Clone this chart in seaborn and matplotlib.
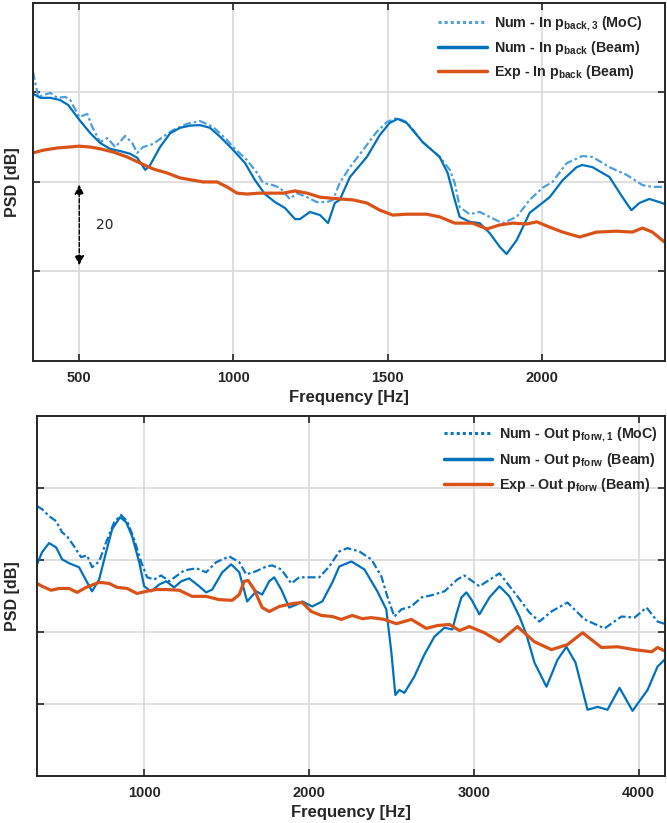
import numpy as np
import pandas as pd
import seaborn as sns
import matplotlib
matplotlib.use("Agg")
import matplotlib.pyplot as plt
from matplotlib.lines import Line2D

# ---------------- data: top panel (In, p_back) ----------------
top_num_f = [350, 374, 406, 438, 464, 500, 536, 568, 600, 633, 665, 688, 714, 730, 762, 795, 827, 860, 892, 924, 957,
             1000, 1038, 1070, 1102, 1135, 1167, 1200, 1216, 1248, 1281, 1307, 1329, 1345, 1378, 1433, 1475, 1507, 1533,
             1562, 1614, 1669, 1695, 1718, 1734, 1766, 1799, 1831, 1864, 1886, 1919, 1961, 2026, 2068, 2113, 2132, 2165,
             2220, 2262, 2291, 2317, 2349, 2382, 2405]
top_num_db = [-20.3, -21.2, -21.2, -21.7, -22.8, -26.1, -29.1, -31.3, -32.6, -33.1, -33.7, -34.6, -37.3, -36.2, -32.2,
              -29.1, -27.9, -27.4, -27.3, -27.9, -29.9, -32.9, -35.8, -39.6, -42.7, -44.5, -45.8, -48.3, -48.3, -46.7,
              -47.4, -49.2, -44.7, -44.0, -38.9, -34.4, -29.5, -26.8, -25.9, -26.8, -31.1, -34.4, -38.0, -44.0, -47.8,
              -48.9, -49.2, -51.4, -54.5, -56.1, -53.0, -46.9, -43.4, -39.6, -36.7, -36.2, -36.7, -38.9, -43.4, -46.3,
              -44.7, -43.8, -44.5, -45.1]

top_moc_f = [350, 367, 383, 406, 429, 455, 471, 500, 526, 542, 568, 591, 617, 649, 672, 688, 707, 740, 772, 804, 850,
             892, 934, 979, 999, 1044, 1077, 1096, 1128, 1151, 1183, 1206, 1239, 1271, 1303, 1323, 1345, 1378, 1420,
             1465, 1498, 1530, 1562, 1614, 1669, 1702, 1718, 1734, 1766, 1799, 1831, 1873, 1919, 1961, 2003, 2035,
             2081, 2132, 2165, 2220, 2275, 2327, 2359, 2405]
top_moc_db = [-15.4, -21.0, -20.6, -20.1, -21.2, -21.0, -21.7, -25.5, -24.8, -27.7, -31.1, -30.2, -32.2, -29.7, -31.3,
              -33.5, -32.2, -31.5, -29.9, -28.4, -27.0, -26.4, -27.7, -30.6, -32.2, -35.1, -38.0, -40.2, -40.7, -41.3,
              -43.8, -42.5, -43.4, -44.5, -44.5, -44.0, -40.2, -36.7, -32.9, -28.8, -26.6, -25.7, -26.6, -31.1, -34.4,
              -37.3, -40.2, -45.6, -47.2, -46.7, -47.8, -49.2, -47.8, -44.0, -41.3, -40.0, -35.8, -34.2, -34.4, -36.7,
              -38.4, -40.7, -41.1, -41.1]

top_exp_f = [350, 383, 429, 500, 536, 568, 610, 655, 698, 740, 785, 827, 869, 902, 947, 979, 1012, 1044, 1086, 1128,
             1161, 1200, 1239, 1281, 1345, 1387, 1433, 1475, 1517, 1562, 1627, 1669, 1718, 1744, 1776, 1822, 1864,
             1906, 1951, 1984, 2026, 2068, 2123, 2178, 2243, 2294, 2327, 2359, 2398]
top_exp_db = [-33.5, -32.9, -32.4, -32.0, -32.2, -32.6, -33.3, -34.4, -35.8, -37.1, -38.0, -39.1, -39.6, -40.0, -40.0,
              -41.1, -42.5, -42.7, -42.5, -42.5, -42.5, -42.0, -42.5, -43.4, -43.8, -44.0, -44.7, -46.3, -47.4, -47.2,
              -47.2, -47.8, -49.2, -49.2, -49.2, -50.5, -49.6, -49.2, -49.4, -48.9, -50.1, -51.2, -52.3, -51.2, -51.0,
              -51.2, -50.3, -51.2, -53.4]

# ---------------- data: bottom panel (Out, p_forw) ----------------
bot_num_f = [350, 381, 423, 466, 502, 545, 605, 654, 684, 727, 769, 806, 854, 891, 927, 970, 1000, 1043, 1091, 1134,
             1182, 1225, 1273, 1334, 1376, 1413, 1474, 1528, 1577, 1625, 1680, 1716, 1759, 1789, 1832, 1880, 1923,
             1959, 2020, 2081, 2142, 2184, 2257, 2336, 2415, 2469, 2500, 2524, 2548, 2579, 2639, 2700, 2761, 2822,
             2870, 2894, 2925, 2955, 2986, 3034, 3095, 3156, 3216, 3277, 3319, 3368, 3441, 3508, 3562, 3617, 3690,
             3751, 3811, 3884, 3963, 4054, 4115, 4170]
bot_num_db = [-41.2, -37.8, -35.3, -36.5, -39.8, -40.9, -42.0, -46.2, -48.7, -45.4, -37.8, -31.4, -28.1, -29.5, -33.4,
              -40.6, -47.3, -48.7, -46.8, -45.9, -47.6, -45.9, -45.1, -47.3, -49.0, -48.2, -43.4, -41.2, -43.4, -51.5,
              -48.7, -49.6, -45.9, -44.8, -48.2, -53.2, -52.4, -51.5, -52.9, -51.5, -46.2, -41.8, -40.4, -42.6, -48.7,
              -53.7, -65.7, -77.5, -76.1, -76.9, -72.4, -66.3, -61.3, -58.8, -59.3, -55.1, -50.4, -49.0, -51.0, -55.1,
              -50.4, -47.3, -50.1, -55.7, -60.7, -68.5, -75.2, -67.7, -64.1, -68.5, -81.6, -80.8, -81.6, -75.5, -81.9,
              -76.1, -69.6, -67.1]

bot_moc_f = [350, 381, 423, 466, 502, 532, 575, 617, 654, 684, 727, 769, 818, 860, 897, 939, 982, 1018, 1061, 1103,
             1152, 1194, 1243, 1316, 1376, 1437, 1516, 1577, 1619, 1680, 1741, 1777, 1832, 1893, 1941, 2002, 2063,
             2123, 2184, 2233, 2305, 2378, 2439, 2475, 2518, 2561, 2621, 2682, 2743, 2822, 2900, 2943, 3034, 3156,
             3265, 3338, 3398, 3471, 3568, 3672, 3793, 3896, 3975, 4048, 4115, 4170]
bot_moc_db = [-25.0, -25.9, -27.8, -29.2, -32.3, -33.4, -36.2, -39.2, -38.7, -42.0, -40.4, -35.1, -29.5, -27.5, -29.2,
              -34.2, -40.6, -44.8, -45.4, -44.3, -45.9, -44.5, -42.9, -42.3, -43.4, -40.6, -39.0, -40.6, -44.0, -43.1,
              -41.8, -41.5, -42.6, -46.5, -44.8, -44.8, -44.8, -41.8, -37.6, -36.7, -37.6, -39.8, -44.5, -50.1, -55.7,
              -53.7, -52.9, -50.4, -49.8, -48.7, -45.4, -44.3, -47.3, -43.7, -50.1, -54.6, -57.1, -54.3, -51.8, -56.5,
              -59.0, -55.7, -56.0, -53.2, -57.1, -57.9]

bot_exp_f = [350, 381, 435, 484, 545, 593, 648, 727, 787, 836, 897, 957, 1012, 1073, 1134, 1213, 1291, 1376, 1455,
             1534, 1577, 1607, 1631, 1668, 1716, 1759, 1820, 1899, 1959, 2014, 2075, 2142, 2196, 2263, 2324, 2378,
             2457, 2530, 2621, 2712, 2779, 2852, 2913, 2973, 3064, 3156, 3265, 3368, 3471, 3568, 3660, 3775, 3872,
             3975, 4079, 4115, 4170]
bot_exp_db = [-46.5, -47.3, -48.4, -47.9, -47.9, -49.0, -47.6, -46.2, -46.5, -47.6, -47.9, -49.3, -48.7, -48.2, -48.2,
              -48.4, -50.1, -50.1, -51.0, -51.2, -49.6, -45.9, -45.7, -48.2, -53.2, -54.3, -52.9, -52.1, -51.8, -54.3,
              -55.4, -55.7, -56.5, -55.4, -56.3, -56.0, -56.5, -57.7, -56.5, -59.0, -58.2, -57.9, -59.6, -58.5, -60.2,
              -62.7, -58.5, -62.7, -64.9, -63.5, -60.2, -64.3, -64.1, -64.9, -65.5, -64.3, -65.5]

top_labels = [r"Num - In p$_{\mathbf{back,3}}$ (MoC)",
              r"Num - In p$_{\mathbf{back}}$ (Beam)",
              r"Exp - In p$_{\mathbf{back}}$ (Beam)"]
bot_labels = [r"Num - Out p$_{\mathbf{forw,1}}$ (MoC)",
              r"Num - Out p$_{\mathbf{forw}}$ (Beam)",
              r"Exp - Out p$_{\mathbf{forw}}$ (Beam)"]

top_xticks = [500, 1000, 1500, 2000]
bot_xticks = [1000, 2000, 3000, 4000]

# ---------------- styling ----------------
sns.set_theme(style="white")
plt.rcParams["font.family"] = ["Liberation Sans", "DejaVu Sans"]
plt.rcParams["mathtext.fontset"] = "custom"
plt.rcParams["mathtext.rm"] = "Liberation Sans"
plt.rcParams["mathtext.bf"] = "Liberation Sans:bold"

C_MOC_TOP = "#4c9fdc"
C_MOC_BOT = "#0a74c2"
C_NUM = "#0072BD"
C_EXP = "#D95319"

fig = plt.figure(figsize=(6.67, 8.23), dpi=100)
ax1 = fig.add_axes([0.0495, 0.5614, 0.9475, 0.4350])
ax2 = fig.add_axes([0.0555, 0.0571, 0.9415, 0.4374])


def make_df(f, db):
    return pd.DataFrame({"f": f, "db": db})


def draw(ax, moc, num, exp, moc_color, labels, xlim, ylim, xticks, yticks, legend_kw):
    sns.lineplot(data=make_df(*moc), x="f", y="db", ax=ax, color=moc_color, lw=1.6,
                 estimator=None, sort=False)
    ax.lines[-1].set_dashes([3.6, 1.3, 1.2, 1.3])
    sns.lineplot(data=make_df(*num), x="f", y="db", ax=ax, color=C_NUM, lw=1.6,
                 estimator=None, sort=False)
    sns.lineplot(data=make_df(*exp), x="f", y="db", ax=ax, color=C_EXP, lw=2.3,
                 estimator=None, sort=False)
    ax.set_xlim(*xlim)
    ax.set_ylim(*ylim)
    ax.set_xticks(xticks)
    ax.set_xticklabels([str(t) for t in xticks], fontweight="bold", fontsize=10.5)
    ax.set_yticks(yticks)
    ax.set_yticklabels([])
    ax.grid(True, color="#dcdcdc", lw=1.3)
    ax.set_axisbelow(True)
    for s in ax.spines.values():
        s.set_color("#262626")
        s.set_linewidth(1.4)
    ax.tick_params(direction="in", length=5, width=1.2, color="#262626",
                   top=True, right=True, bottom=True, left=True, pad=7)
    ax.set_xlabel("Frequency [Hz]", fontweight="bold", fontsize=12, labelpad=4)
    ax.set_ylabel("PSD [dB]", fontweight="bold", fontsize=11.5, labelpad=4)
    handles = [Line2D([], [], color=moc_color, lw=2.2, linestyle=(0, (1, 1))),
               Line2D([], [], color=C_NUM, lw=2.5),
               Line2D([], [], color=C_EXP, lw=2.5)]
    leg = ax.legend(handles, labels, frameon=False, prop={"weight": "bold", "size": 10.3},
                    handlelength=3.4, handletextpad=0.5, **legend_kw)
    return leg


draw(ax1, (top_moc_f, top_moc_db), (top_num_f, top_num_db), (top_exp_f, top_exp_db), C_MOC_TOP,
     top_labels, (350, 2400), (-80, 0), top_xticks, [-60, -40, -20],
     dict(loc="upper right", bbox_to_anchor=(0.985, 1.003), labelspacing=0.4))
draw(ax2, (bot_moc_f, bot_moc_db), (bot_num_f, bot_num_db), (bot_exp_f, bot_exp_db), C_MOC_BOT,
     bot_labels, (350, 4160), (-100, 0), bot_xticks, [-80, -60, -40, -20],
     dict(loc="upper right", bbox_to_anchor=(1.01, 1.01), labelspacing=0.5))

ax1.yaxis.set_label_coords(-0.021, 0.5)
ax2.yaxis.set_label_coords(-0.027, 0.5)

# 20 dB scale arrow
ax1.annotate("", xy=(500, -58.6), xytext=(500, -40.6),
             arrowprops=dict(arrowstyle="<|-|>", color="black", lw=1.0, linestyle=(0, (3, 1.5)),
                             mutation_scale=14, shrinkA=0, shrinkB=0))
ax1.text(584, -49.6, "20", fontsize=10, family="DejaVu Sans", va="center", ha="center", color="#222222")

fig.savefig("out.png", dpi=100)
